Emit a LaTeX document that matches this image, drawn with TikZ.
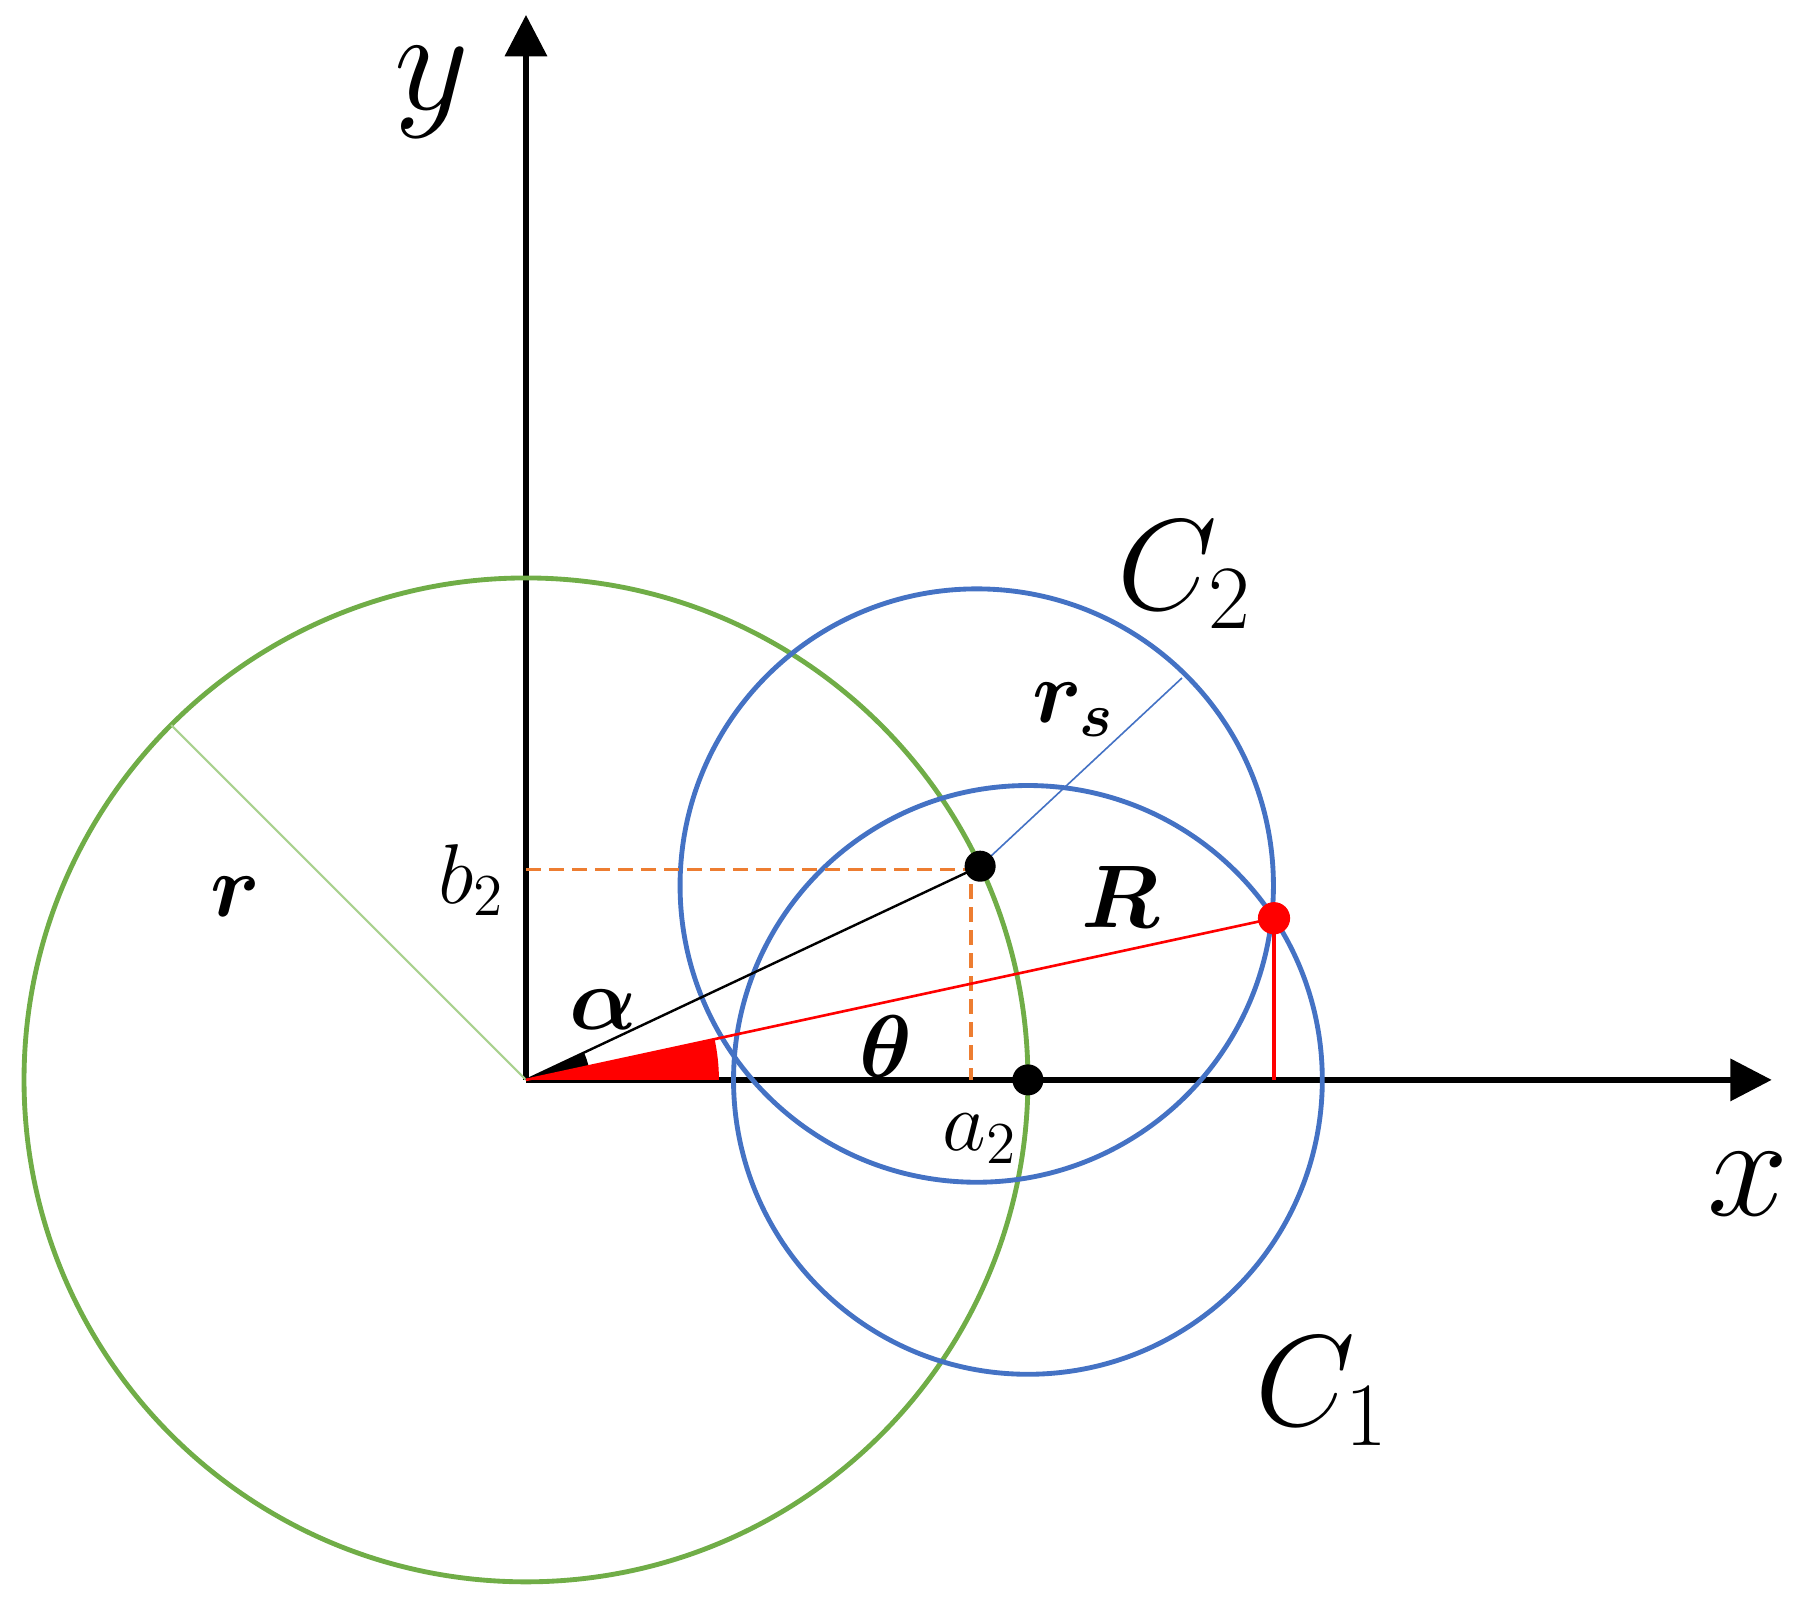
\documentclass[tikz,border=0pt]{standalone}
\usepackage{fix-cm}
\usepackage{amsmath,bm}
\usetikzlibrary{arrows.meta}
\definecolor{cgreen}{HTML}{70AD47}
\definecolor{lgreen}{HTML}{A9D18E}
\definecolor{cblue}{HTML}{4472C4}
\definecolor{corange}{HTML}{ED7D31}
\begin{document}
\begin{tikzpicture}[>={Triangle[length=3.6mm,width=3.6mm]},
  axislab/.style={font=\fontsize{36}{40}\selectfont},
  circlab/.style={font=\fontsize{32}{36}\selectfont},
  anglab/.style={font=\fontsize{22}{26}\selectfont},
  poslab/.style={font=\fontsize{21}{25}\selectfont}]
\useasboundingbox (-4.574,-4.687) rectangle (11.027,9.391);
\coordinate (O) at (0,0);
\coordinate (xend) at (10.833,0);
\coordinate (yend) at (0,9.261);
\coordinate (A) at (25.2:4.365);
\coordinate (a2) at (4.365,0);
\coordinate (c2) at (3.92,1.69);
\coordinate (P) at (6.505,1.406);
\coordinate (Px) at (6.505,0);
\coordinate (b2y) at (0,1.832);
\coordinate (b2c) at (3.870,1.832);
\coordinate (a2x) at (3.870,0);
\draw[->,line width=1.4pt](O)--(xend);
\draw[->,line width=1.4pt](O)--(yend);
\draw[cgreen,line width=1.2pt](O)circle(4.365);
\draw[lgreen,line width=0.5pt](O)--(135:4.365);
\draw[cblue,line width=1.2pt](a2)circle(2.56);
\draw[cblue,line width=1.2pt](c2)circle(2.58);
\draw[cblue,line width=0.4pt](A)--++(43:2.40);
\draw[corange,line width=0.8pt,dash pattern=on 0.13cm off 0.07cm](b2y)--(b2c)--(a2x);
\fill(O)--(0.557,0)arc(0:25.8:0.557)--cycle;
\fill[red](O)--(1.678,0)arc(0:12.2:1.678)--cycle;
\draw[line width=0.6pt](O)--(A);
\draw[red,line width=0.65pt](O)--(P);
\draw[red,line width=0.8pt](P)--(Px);
\foreach \p in {A,a2}
{
    \fill (\p)circle(0.135);
}
\fill[red](P)circle(0.14);
\node[axislab] (ylab) at (-0.817,8.59) {$y$};
\node[axislab] (xlab) at (10.63,-0.909) {$x$};
\node[circlab] (c2lab) at (5.727,4.39) {$C_2$};
\node[circlab] (c1lab) at (6.926,-2.709) {$C_1$};
\node[anglab] (rlab) at (-2.524,1.591) {$\bm{r}$};
\node[anglab] (rslab) at (4.76,3.22) {$\bm{r_s}$};
\node[anglab] (Rlab) at (5.174,1.587) {$\bm{R}$};
\node[anglab] (alab) at (0.676,0.611) {$\bm{\alpha}$};
\node[anglab] (tlab) at (3.126,0.291) {$\bm{\theta}$};
\node[poslab] (b2lab) at (-0.474,1.739) {$b_2$};
\node[poslab] (a2lab) at (3.948,-0.509) {$a_2$};
\end{tikzpicture}
\end{document}
